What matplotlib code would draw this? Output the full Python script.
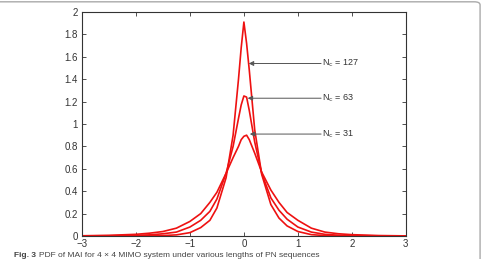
import matplotlib
matplotlib.use("Agg")
import matplotlib.pyplot as plt
from matplotlib.patches import FancyBboxPatch

plt.rcParams['font.family'] = ['Liberation Sans', 'DejaVu Sans']

x = [-3, -2.5, -2, -1.75, -1.5, -1.25, -1, -0.8, -0.63, -0.5, -0.33, -0.2, -0.1, -0.05,
     0, 0.05, 0.1, 0.2, 0.33, 0.5, 0.65, 0.8, 1, 1.25, 1.5, 1.75, 2, 2.5, 3]

pdf_nc31 = [0.002, 0.006, 0.015, 0.025, 0.04, 0.07, 0.13, 0.2, 0.30, 0.39, 0.56, 0.70, 0.80, 0.86,
            0.89, 0.90, 0.86, 0.74, 0.57, 0.41, 0.30, 0.21, 0.14, 0.07, 0.035, 0.02, 0.012, 0.004, 0.001]
pdf_nc63 = [0.001, 0.002, 0.006, 0.01, 0.02, 0.035, 0.08, 0.14, 0.22, 0.33, 0.56, 0.80, 1.05, 1.17,
            1.25, 1.24, 1.12, 0.84, 0.56, 0.34, 0.23, 0.15, 0.08, 0.035, 0.015, 0.007, 0.004, 0.001, 0.0]
pdf_nc127 = [0.0, 0.0, 0.001, 0.002, 0.004, 0.01, 0.03, 0.075, 0.14, 0.25, 0.52, 0.9, 1.4, 1.68,
             1.91, 1.72, 1.48, 0.95, 0.55, 0.28, 0.16, 0.09, 0.04, 0.012, 0.004, 0.002, 0.001, 0.0, 0.0]

labels = ["127", "63", "31"]
arrow_tips = [(0.09, 1.54), (0.07, 1.23), (0.11, 0.91)]
text_x = 1.45

xticks = [-3, -2, -1, 0, 1, 2, 3]
yticks = [0, 0.2, 0.4, 0.6, 0.8, 1, 1.2, 1.4, 1.6, 1.8, 2]

fig = plt.figure(figsize=(4.82, 2.59), dpi=100)
ax = fig.add_axes([0.170, 0.0888, 0.672, 0.865])

for y in (pdf_nc31, pdf_nc63, pdf_nc127):
    ax.plot(x, y, color='#ee1111', lw=1.2)

for lab, tip in zip(labels, arrow_tips):
    ax.annotate('', xy=tip, xytext=(text_x - 0.02, tip[1]),
                arrowprops=dict(arrowstyle='-|>', color='#555555', lw=0.7,
                                mutation_scale=7, shrinkA=0, shrinkB=0))
    ax.text(text_x, tip[1], r'N$_{\rm c}$ = ' + lab, fontsize=6.5, color='#333333',
            va='center', ha='left')

ax.set_xlim(-3, 3)
ax.set_ylim(0, 2)
ax.set_xticks(xticks)
ax.set_xticklabels(['\u22123', '\u22122', '\u22121', '0', '1', '2', '3'])
ax.set_yticks(yticks)
ax.set_yticklabels(['%g' % v for v in yticks])
ax.tick_params(direction='in', length=3, width=0.6, labelsize=7, colors='#333333',
               top=True, right=True, pad=2)
ax.tick_params(axis='y', pad=3)
for s in ax.spines.values():
    s.set_linewidth(0.8)
    s.set_color('#333333')

# outer frame of the page figure
frame = FancyBboxPatch((-0.2, -0.2), 1.196, 1.193, boxstyle='round,pad=0,rounding_size=0.012',
                       transform=fig.transFigure, fill=False, edgecolor='#aaaaaa', lw=1.0,
                       clip_on=False)
fig.patches.append(frame)

fig.text(0.029, 0.026, 'Fig. 3', fontsize=6, fontweight='bold', color='#444444', va='top')
fig.text(0.080, 0.026, 'PDF of MAI for 4 \u00d7 4 MIMO system under various lengths of PN sequences',
         fontsize=6, color='#444444', va='top')

fig.savefig('out.png', dpi=100)
